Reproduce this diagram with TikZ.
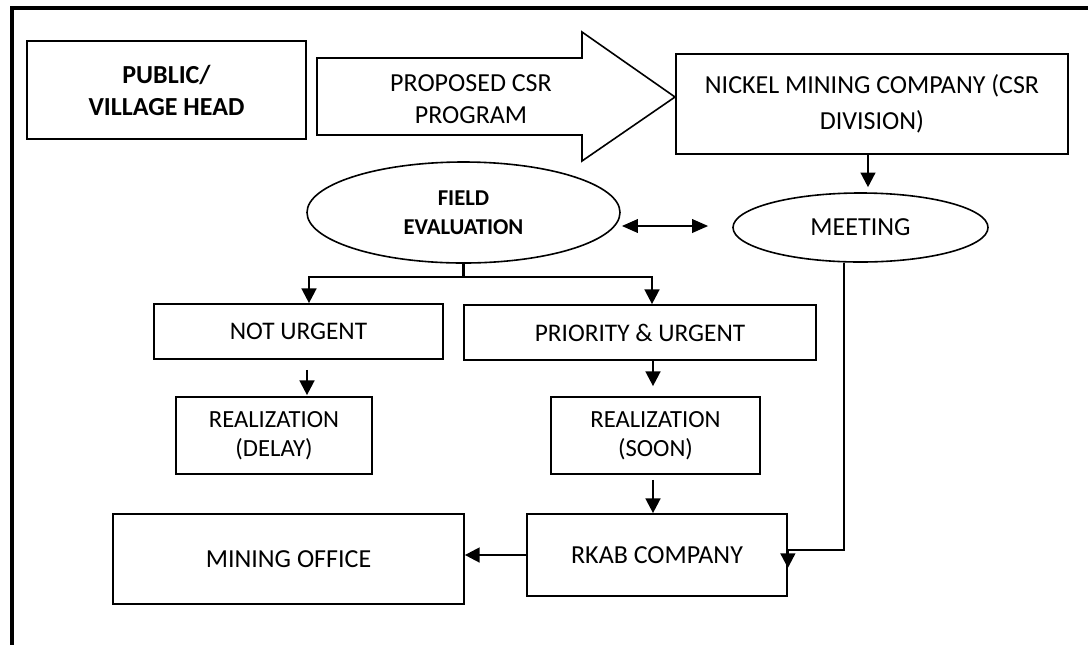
\documentclass[tikz,border=0pt]{standalone}
\usepackage{fontspec}
\setmainfont{Carlito}
\usetikzlibrary{arrows.meta,calc,shapes.geometric}
\begin{document}
\begin{tikzpicture}[x=0.75pt,y=-0.75pt,
  sz/.style 2 args={minimum width=#1*0.75pt,minimum height=#2*0.75pt},
  box/.style={draw,line width=1.3pt,rectangle,inner sep=0pt,align=center,font=\fontsize{19.5}{27}\selectfont},
  oval/.style={draw,line width=1.2pt,ellipse,inner sep=0pt,align=center},
  conn/.style={line width=1.8pt},
  arr/.style={conn,-{Triangle[length=11pt,width=11pt]}},
  dbl/.style={conn,{Triangle[length=12pt,width=10pt]}-{Triangle[length=12pt,width=10pt]}}
]
\useasboundingbox (0,0) rectangle (1088,644);
\clip (0,0) rectangle (1088,644);
% outer frame (cut at right and bottom)
\draw[line width=3pt] (1100,7.5) -- (12,7.5) -- (12,660);
% block arrow
\draw[line width=1.2pt,line join=miter] (317,58) -- (582,58) -- (582,32) -- (675,97) -- (582,161) -- (582,135) -- (317,135) -- cycle;
\node[font=\fontsize{19.5}{24}\selectfont,align=center] (prop) at (471,99) {PROPOSED CSR\\PROGRAM};
% nodes
\node[box,sz={279}{98},font=\bfseries\fontsize{19.5}{24}\selectfont] (pub) at (166.5,90) {PUBLIC/\\VILLAGE HEAD};
\node[box,sz={392}{100}] (nick) at (872,104) {NICKEL MINING COMPANY (CSR\\DIVISION)};
\node[oval,sz={255}{69},font=\fontsize{19.5}{24}\selectfont] (meet) at (860.5,227.5) {MEETING};
\node[oval,sz={313}{101},font=\bfseries\fontsize{17}{21.75}\selectfont] (field) at (463.5,212.5) {FIELD\\EVALUATION};
\node[box,sz={289}{55},font=\fontsize{19}{24}\selectfont] (nu) at (298.5,331.5) {NOT URGENT};
\node[box,sz={352}{55},font=\fontsize{19}{24}\selectfont] (pu) at (640,332.5) {PRIORITY \& URGENT};
\node[box,sz={196}{77},font=\fontsize{18.5}{21.75}\selectfont] (rd) at (274,435.5) {REALIZATION\\(DELAY)};
\node[box,sz={209}{77},font=\fontsize{18.5}{21.75}\selectfont] (rs) at (655.5,435.5) {REALIZATION\\(SOON)};
\node[box,sz={351}{90}] (mo) at (288.5,559) {MINING OFFICE};
\node[box,sz={260}{82}] (rk) at (657,555) {RKAB COMPANY};
% connectors
\draw[arr] ($(nick.south)+(-4,0)$) -- ($(nick.south |- meet.north)+(-4,-5)$);
\draw[dbl] ($(field.east)+(1,13.5)$) -- ($(meet.west)+(-24,-1.5)$);
\draw[conn] ($(field.south)+(0,-2)$) -- ++(0,15) coordinate (br);
\draw[arr] (br) -| ($(nu.north)+(10.5,0)$);
\draw[arr] (br) -| ($(pu.north)+(12,0)$);
\draw[arr] ($(nu.south)+(8.5,10)$) -- ($(rd.north)+(33,-1)$);
\draw[arr] ($(pu.south)+(13,0)$) -- ($(rs.north)+(-2.5,-10)$);
\draw[arr] ($(rs.south)+(-2.5,5)$) -- ($(rk.north)+(-4,0)$);
\draw[arr] (rk.west) -- (mo.east |- rk.west);
\draw[arr] ($(meet.south)+(-16.5,0)$) |- ($(rk.east)+(0,-5)$) -- ++(0,18);
\end{tikzpicture}
\end{document}
